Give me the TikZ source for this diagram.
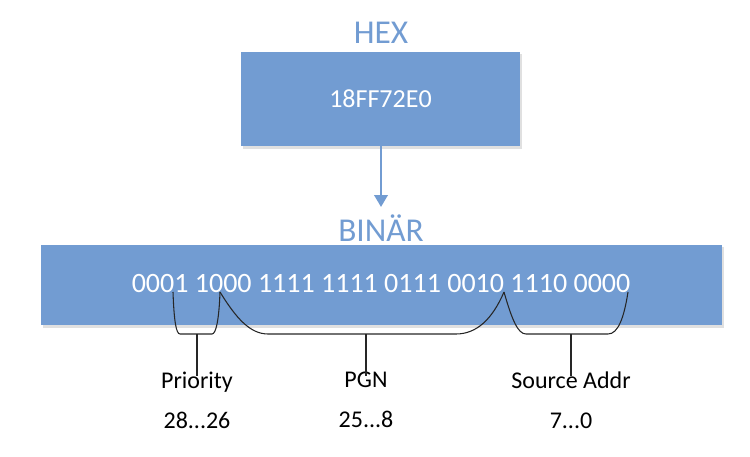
\documentclass[tikz,border=0pt]{standalone}
\usepackage{fontspec}
\setmainfont{Carlito}
\usetikzlibrary{arrows.meta}
\definecolor{hexblue}{RGB}{114,156,210}
\tikzset{
	box/.style={fill=hexblue, draw=none},
	shade box/.style={fill=black!12, draw=none},
	title/.style={text=hexblue, font=\fontsize{25}{28}\selectfont},
	field/.style={align=center, font=\fontsize{18}{30}\selectfont},
	brace/.style={thick, black!85}
}
\begin{document}
\begin{tikzpicture}[x=0.75pt, y=-0.75pt]
	\useasboundingbox (0,0) rectangle (750,457);
	
	%hex
	\node[title] (hex title) at (381,33) {HEX};
	\fill[shade box] (243,54) rectangle (522,149);
	\draw[box] (241,52) coordinate (hex box) rectangle (520,146) node[pos=0.5, text=white, font=\fontsize{19.5}{22}\selectfont] (hex value) {18FF72E0};
	\coordinate (hex bottom) at (381,146);
	
	%binaer
	\node[title] (bin title) at (381,228) {BINÄR};
	\coordinate (arrow end) at (381,207);
	\draw[hexblue, line width=2pt, -{Triangle[length=9pt, width=10pt]}] (hex bottom) -- (arrow end);
	\fill[shade box] (43,247) rectangle (724,328);
	\draw[box] (41,245) coordinate (bin box) rectangle (722,325);
	\node[text=white, font=\fontsize{21}{24}\selectfont] (bin value) at (381,284) {0001 1000 1111 1111 0111 0010 1110 0000};
	
	%braces
	\coordinate (prio left) at (173,292);
	\coordinate (prio right) at (220,292);
	\coordinate (src left) at (504,292);
	\coordinate (src right) at (628,292);
	\draw[brace] (prio left) .. controls (174,320) and (176,334) .. (180,334) -- (212,334) .. controls (216,334) and (219,320) .. (prio right);
	\draw[brace] (prio right) .. controls (236,318) and (250,334) .. (268,334) -- (456,334) .. controls (476,334) and (492,320) .. (src left);
	\draw[brace] (src left) .. controls (512,320) and (518,334) .. (526,334) -- (608,334) .. controls (618,334) and (624,318) .. (src right);
	
	%labels
	\node[field] (prio) at (197,400) {Priority\\28...26};
	\node[field] (pgn) at (366,400) {PGN\\25...8};
	\node[field] (src) at (571,400) {Source Addr\\7...0};
	\draw[brace] (197,334) -- (197,376);
	\draw[brace] (366,334) -- (366,376);
	\draw[brace] (571,334) -- (571,376);
	
\end{tikzpicture}
\end{document}
